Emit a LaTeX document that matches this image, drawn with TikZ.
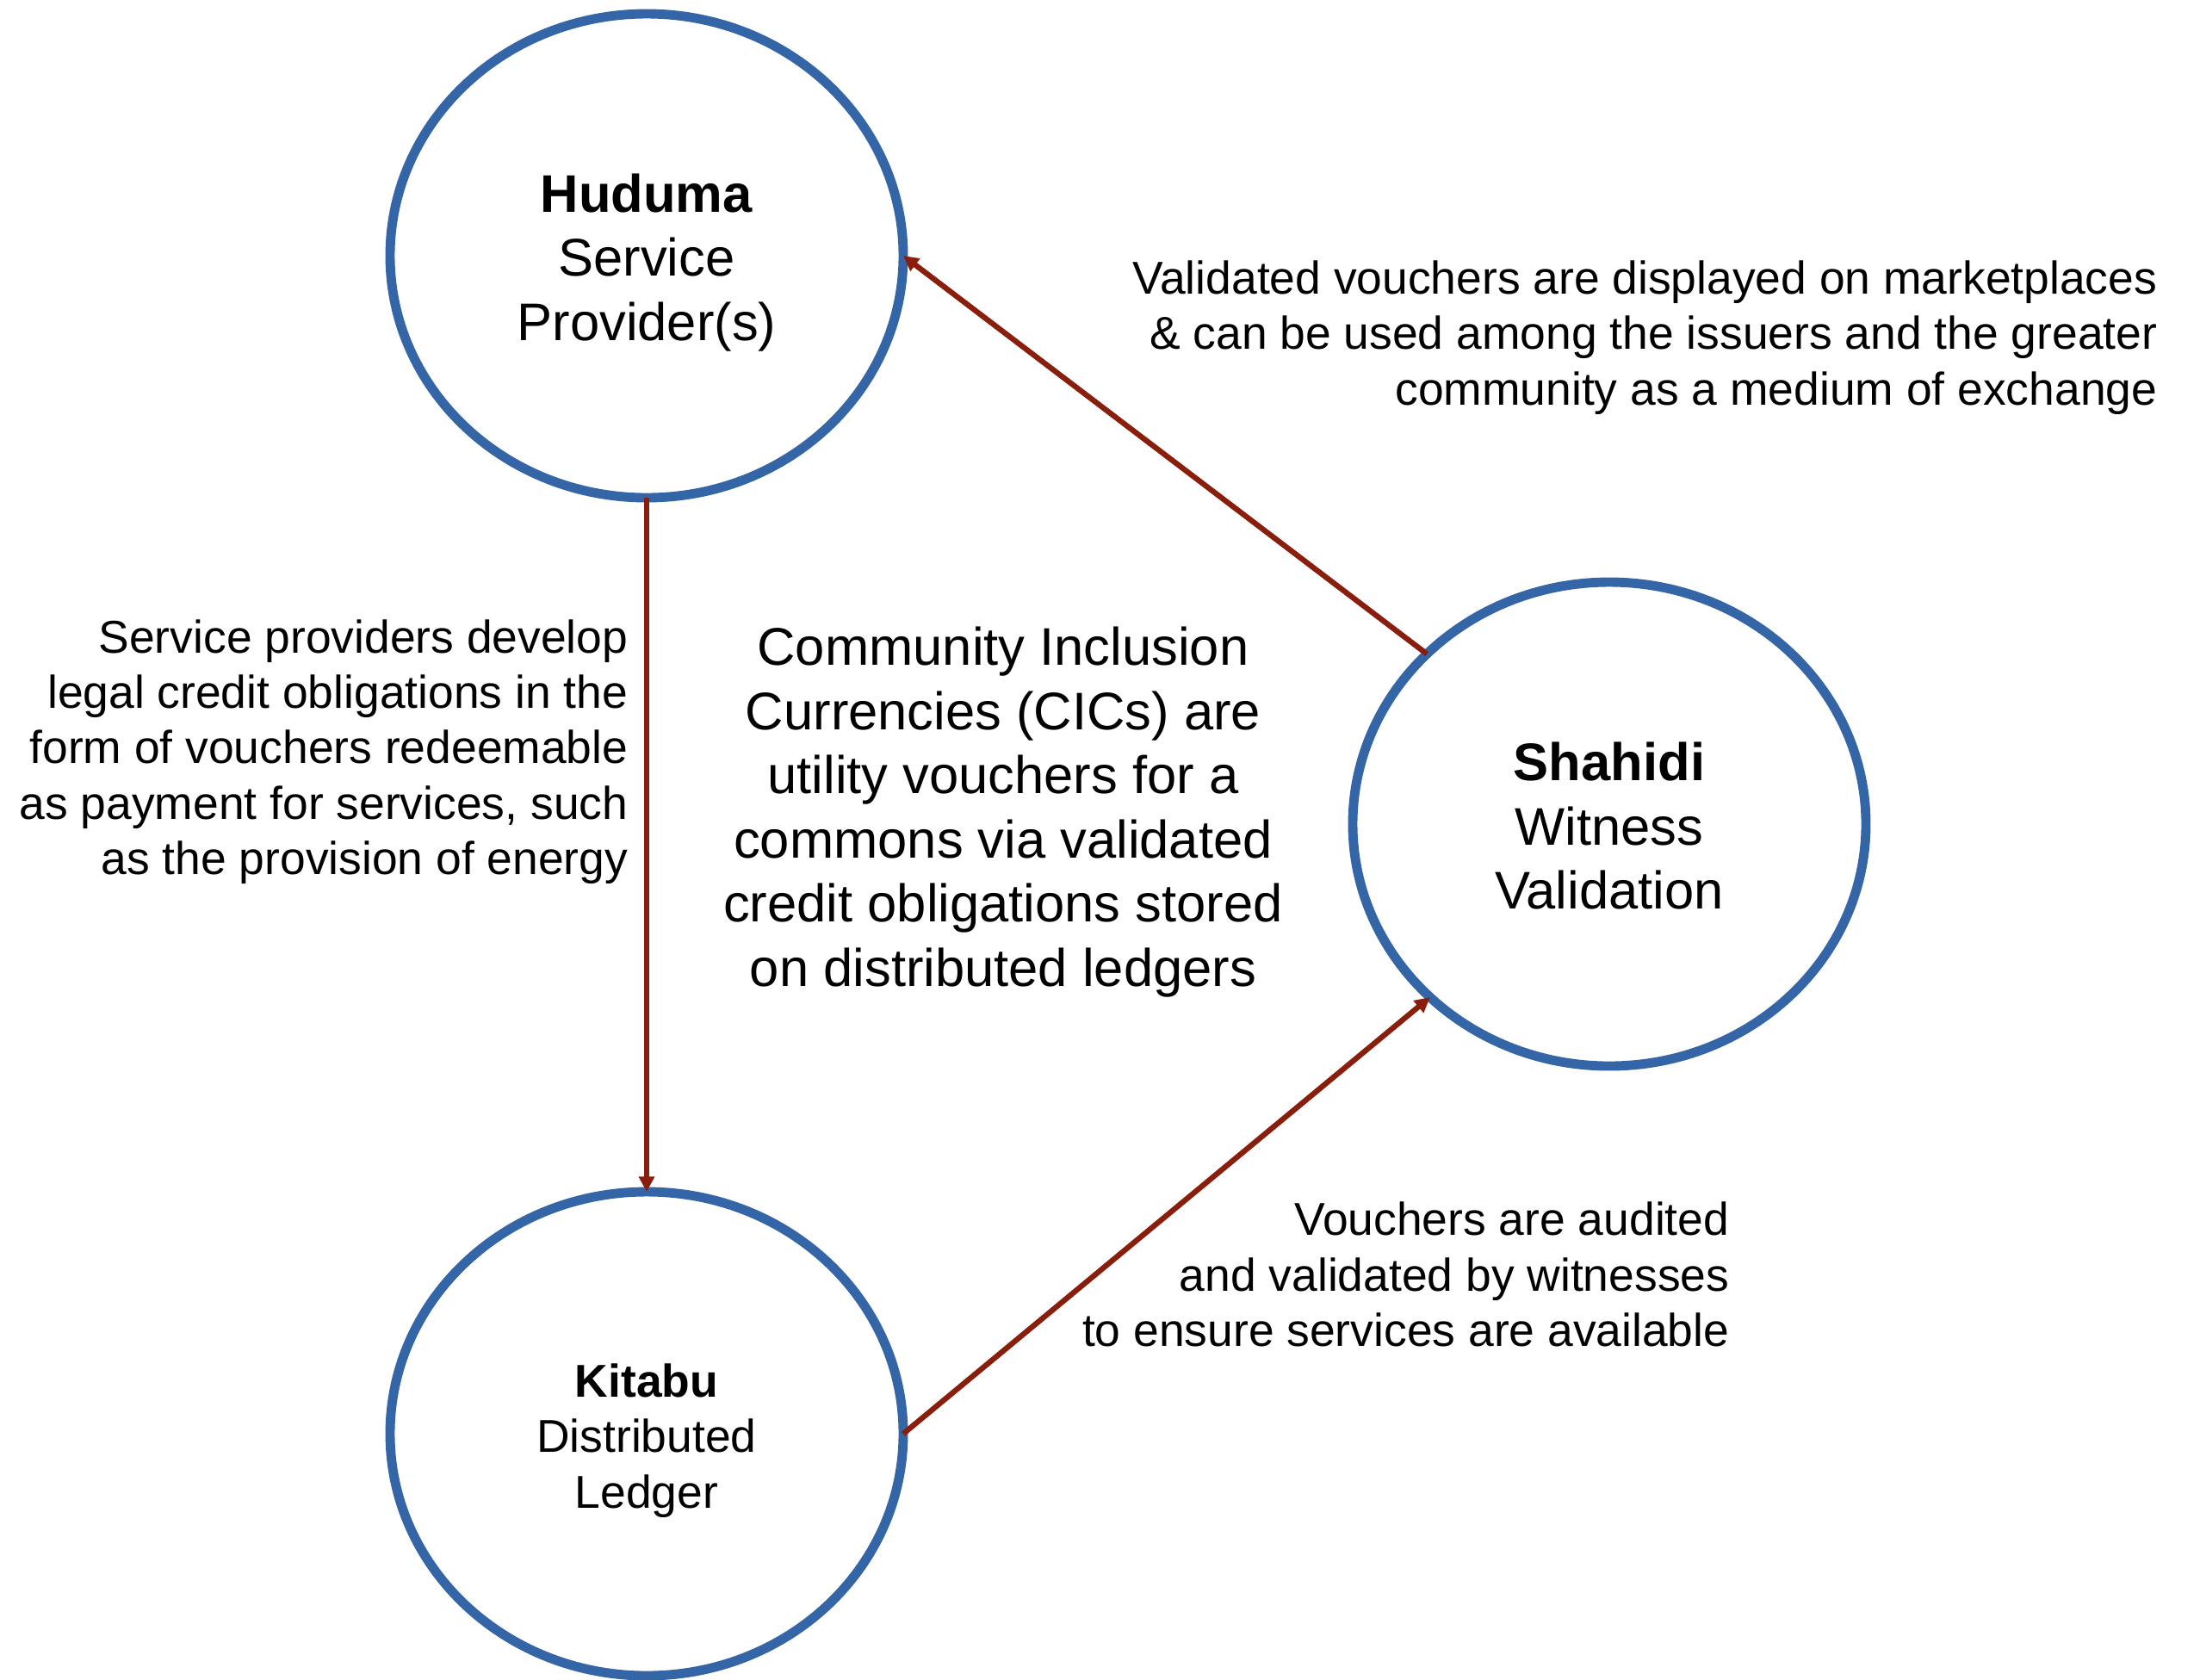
\documentclass[tikz,border=0pt]{standalone}
\usepackage{fontspec}
\setmainfont{Liberation Sans}
\usetikzlibrary{shapes.geometric,arrows.meta,positioning}

\definecolor{ringblue}{HTML}{3465A6}
\definecolor{arrowred}{HTML}{8A1E0C}

\tikzset{
  ring/.style={ellipse, draw=ringblue, line width=3.1pt, minimum width=5.96cm,
    minimum height=5.62cm, outer sep=0pt, inner sep=0pt},
  title/.style={align=center, inner sep=0pt},
  note/.style={align=right, anchor=east, inner sep=0pt,
    font=\fontsize{15.2}{18.3}\selectfont},
  flow/.style={->, draw=arrowred, line width=1.8pt},
  >={Triangle[length=5pt,width=5pt]}
}

\begin{document}
\begin{tikzpicture}[x=1cm,y=-1cm]
      \useasboundingbox (0,0) rectangle (25.55,19.5);

      % the three rings
      \node[ring] (hud) at (7.51,2.97) {};
      \node[ring] (kit) at (7.51,16.65) {};
      \node[ring] (sha) at (18.69,9.57) {};

      \node[title, font=\fontsize{17.5}{21.2}\selectfont] (hudt) at (7.51,3.05)
        {\textbf{Huduma}\\Service\\Provider(s)};
      \node[title, font=\fontsize{15.2}{18.4}\selectfont] (kitt) at (7.51,16.73)
        {\textbf{Kitabu}\\Distributed\\Ledger};
      \node[title, font=\fontsize{17.5}{21.2}\selectfont] (shat) at (18.69,9.59)
        {\textbf{Shahidi}\\Witness\\Validation};

      \node[note] (t1) at (25.06,3.92)
        {Validated vouchers are displayed on marketplaces\\
         \& can be used among the issuers and the greater\\
         community as a medium of exchange};
      \node[note] (t2) at (7.30,8.73)
        {Service providers develop\\legal credit obligations in the\\
         form of vouchers redeemable\\as payment for services, such\\
         as the provision of energy};
      \node[note] (t3) at (20.09,14.80)
        {Vouchers are audited\\and validated by witnesses\\
         to ensure services are available};
      \node[title, font=\fontsize{17.5}{21.2}\selectfont] (cic) at (11.65,9.43)
        {Community Inclusion\\Currencies (CICs) are\\utility vouchers for a\\
         commons via validated\\credit obligations stored\\on distributed ledgers};

      \draw[flow] (sha.137) -- (hud.east);
      \draw[flow] (hud.south) -- (kit.north);
      \draw[flow] (kit.east) -- (sha.224);
\end{tikzpicture}
\end{document}
